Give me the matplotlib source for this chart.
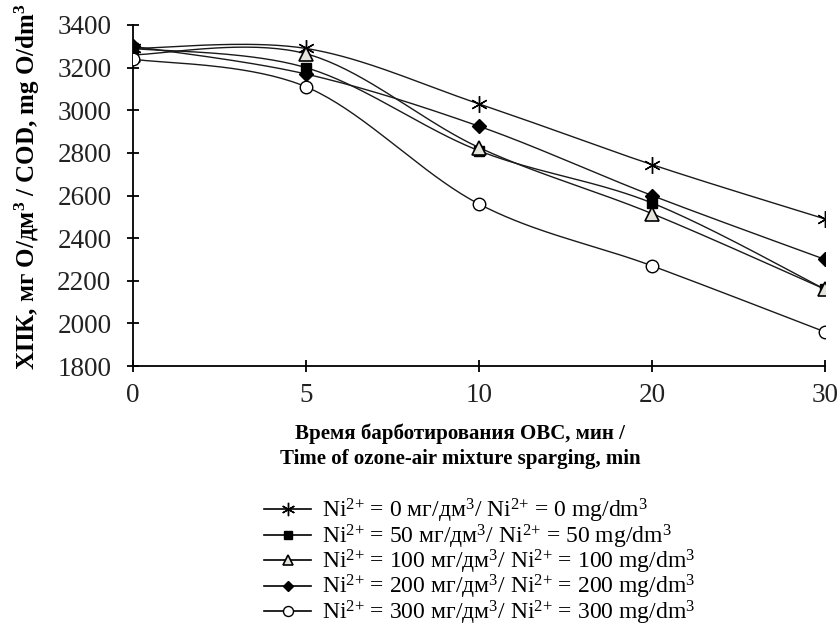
import numpy as np
import matplotlib
matplotlib.use("Agg")
import matplotlib.pyplot as plt

plt.rcParams['font.family'] = ['Liberation Serif', 'DejaVu Serif']
plt.rcParams['mathtext.fontset'] = 'custom'
plt.rcParams['mathtext.rm'] = 'Liberation Serif'
plt.rcParams['mathtext.it'] = 'Liberation Serif:italic'
plt.rcParams['mathtext.bf'] = 'Liberation Serif:bold'

# ---- data ----
time_labels = ['0', '5', '10', '20', '30']
ni0 = [3290, 3290, 3030, 2745, 2490]
ni50 = [3290, 3200, 2810, 2565, 2160]
ni100 = [3260, 3265, 2825, 2515, 2160]
ni200 = [3300, 3170, 2925, 2600, 2300]
ni300 = [3240, 3110, 2560, 2270, 1960]
concentrations = ['0', '50', '100', '200', '300']
y_ticks = [1800, 2000, 2200, 2400, 2600, 2800, 3000, 3200, 3400]

NI = r'Ni$^{\mathregular{2{+}}}$'
CUBE = r'$^{\mathregular{3}}$'
series_labels = [f'{NI} = {c} мг/дм{CUBE}/ {NI} = {c} mg/dm{CUBE}' for c in concentrations]

styles = [
    dict(marker=(6, 2, 0), ms=12, mfc='none', mec='black', mew=1.0),
    dict(marker='s', ms=7.5, mfc='black', mec='black', mew=1.0),
    dict(marker='^', ms=9.5, mfc='#e4e4dc', mec='black', mew=1.2),
    dict(marker='D', ms=7, mfc='black', mec='black', mew=1.0),
    dict(marker='o', ms=9, mfc='white', mec='black', mew=1.0),
]

fig = plt.figure(figsize=(8.4, 6.27), dpi=100)
ax = fig.add_axes([133/840, 1-366/627, 692/840, 341/627])

xpos = np.arange(len(time_labels), dtype=float)
sx, sy = 173.0, 341.0/1600.0  # approximate px per unit for smoothing


def smooth(x, y, n=40):
    px = np.asarray(x) * sx
    py = np.asarray(y, dtype=float) * sy
    P = np.column_stack([px, py])
    out = [P[0]]
    m = len(P)
    for i in range(m - 1):
        p0 = P[i - 1] if i > 0 else P[i]
        p1 = P[i]
        p2 = P[i + 1]
        p3 = P[i + 2] if i + 2 < m else P[i + 1]
        c1 = p1 + (p2 - p0) / 6.0
        c2 = p2 - (p3 - p1) / 6.0
        t = np.linspace(0, 1, n)[1:, None]
        seg = ((1-t)**3)*p1 + 3*((1-t)**2)*t*c1 + 3*(1-t)*(t**2)*c2 + (t**3)*p2
        out.extend(seg)
    out = np.array(out)
    return out[:, 0] / sx, out[:, 1] / sy


all_series = [ni0, ni50, ni100, ni200, ni300]
handles = []
for vals, st, lab in zip(all_series, styles, series_labels):
    cx, cy = smooth(xpos, vals)
    ax.plot(cx, cy, color='#1a1a1a', lw=1.0, zorder=2)
    ax.plot(xpos, vals, linestyle='none', zorder=3, **st)
    h, = ax.plot([], [], color='black', lw=1.2, label=lab, **st)
    handles.append(h)

ax.set_xlim(0, 4)
ax.set_ylim(1800, 3400)
ax.set_xticks(xpos)
ax.set_xticklabels(time_labels)
ax.set_yticks(y_ticks)
for s in ['top', 'right']:
    ax.spines[s].set_visible(False)
for s in ['left', 'bottom']:
    ax.spines[s].set_linewidth(1.3)
    ax.spines[s].set_color('black')
ax.tick_params(axis='both', direction='inout', length=9, width=1.3,
               labelsize=19.5, colors='black', labelcolor='#222222')
ax.tick_params(axis='y', pad=11)
ax.tick_params(axis='x', pad=8)

ax.set_xlabel('Время барботирования ОВС, мин /\nTime of ozone-air mixture sparging, min',
              fontsize=15, fontweight='bold', linespacing=1.3)
ax.xaxis.set_label_coords((460-133)/692, (366-446)/341)
ax.xaxis.label.set_va('center')
ax.set_ylabel(r'ХПК, мг О/дм$^{\mathbf{3}}$ / COD, mg O/dm$^{\mathbf{3}}$',
              fontsize=18, fontweight='bold')
ax.yaxis.set_label_coords(-(133-27)/692, (366-187)/341)
ax.yaxis.label.set_va('center')

fig.legend(handles=handles, loc='upper left', bbox_to_anchor=(264/840, 1-497/627),
           frameon=False, fontsize=17, borderpad=0, borderaxespad=0,
           handlelength=2.0, handletextpad=0.45, labelspacing=-0.12,
           markerscale=0.8)

fig.savefig('out.png', dpi=100)
